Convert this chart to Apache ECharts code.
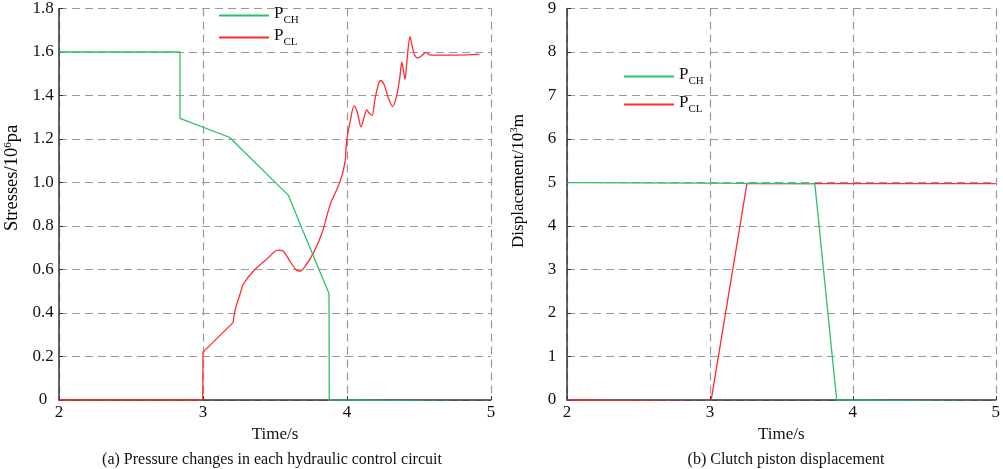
<!DOCTYPE html>
<html><head><meta charset="utf-8">
<script src="https://cdn.jsdelivr.net/npm/echarts@6/dist/echarts.min.js"></script>
<style>html,body{margin:0;padding:0;background:#fff}#c{width:1003px;height:469px}</style>
</head><body><div id="c"></div>
<script>
// ---- data ----
const xTicksMin = 2, xTicksMax = 5;
const seriesNames = ['PCH', 'PCL'];
// (a) pressure, 10^6 Pa
const pressureCH = [[2,1.6],[2.84,1.6],[2.84,1.295],[3.183,1.208],[3.592,0.942],[3.69,0.784],[3.875,0.49],[3.877,0],[4.5,-0.004],[5,-0.01]];
// PCL: straight part (step + ramp) and the curved part after the kink at 3.21 s
const pressureCLRise = [[2,0],[2.998,0],[3.0,0.22],[3.21,0.357]];
const pressureCLCurve = [[3.21,0.357],[3.217,0.395],[3.234,0.44],[3.257,0.486],[3.28,0.532],[3.349,0.592],[3.441,0.646],[3.52,0.689],[3.558,0.684],[3.604,0.638],[3.651,0.595],[3.674,0.592],[3.71,0.615],[3.77,0.68],[3.83,0.775],[3.882,0.896],[3.951,1.003],[3.986,1.094],[3.998,1.193],[4.021,1.276],[4.049,1.352],[4.072,1.322],[4.097,1.256],[4.118,1.299],[4.137,1.334],[4.155,1.318],[4.174,1.309],[4.194,1.382],[4.218,1.451],[4.234,1.469],[4.257,1.451],[4.287,1.39],[4.317,1.349],[4.345,1.398],[4.368,1.489],[4.38,1.553],[4.391,1.519],[4.403,1.474],[4.415,1.549],[4.426,1.625],[4.438,1.671],[4.449,1.64],[4.465,1.595],[4.488,1.572],[4.519,1.583],[4.549,1.598],[4.572,1.587],[4.611,1.586],[4.765,1.586],[4.919,1.589]];
// (b) displacement, 10^3 m
const dispCH = [[2,4.997],[3.734,4.975],[3.887,0],[5,-0.04]];
const dispCL = [[2,0],[3.007,-0.04],[3.259,4.975],[5,4.975]];
const pressureTicks = {min:0, max:1.8, interval:0.2};
const dispTicks = {min:0, max:9, interval:1};
const captions = ['(a) Pressure changes in each hydraulic control circuit', '(b) Clutch piston displacement'];
const xName = 'Time/s';

// ---- styling ----
const FONT = '"Liberation Serif","Times New Roman",serif';
const GREEN = '#2dbf6e', RED = '#ff2e2e';
const grids = [
  {left:59, right:512, top:5, bottom:69},
  {left:567, right:4, top:5, bottom:69}
];
function xAxis(gi){
  return {gridIndex:gi, type:'value', min:xTicksMin, max:xTicksMax, interval:1,
    name:xName, nameLocation:'middle', nameGap:21,
    nameTextStyle:{fontFamily:FONT, fontSize:17, color:'#111'},
    axisLine:{show:true, onZero:false, lineStyle:{color:'#333', width:1.5}},
    axisTick:{show:true, inside:true, length:4, lineStyle:{color:'#333'}},
    axisLabel:{fontFamily:FONT, fontSize:17, color:'#111', margin:4},
    splitLine:{show:true, lineStyle:{type:[8,5], color:'#9a9a9a', width:1.2}}
  };
}
function yAxis(gi, t, fmt, margin){
  return {gridIndex:gi, type:'value', min:t.min, max:t.max, interval:t.interval,
    axisLine:{show:true, lineStyle:{color:'#333', width:1.5}},
    axisTick:{show:true, inside:true, length:4, lineStyle:{color:'#333'}},
    axisLabel:{fontFamily:FONT, fontSize:17, color:'#111', margin:margin, align:'center', formatter:fmt},
    splitLine:{show:true, lineStyle:{type:[8,5], color:'#9a9a9a', width:1.2}}
  };
}
function line(name, data, gi, color, z, smooth){
  return {name, type:'line', xAxisIndex:gi, yAxisIndex:gi, data, symbol:'none', showSymbol:false,
    smooth: smooth || false,
    lineStyle:{color, width:1.3}, itemStyle:{color}, z, animation:false, clip:true};
}
const richLegend = {
  p:{fontFamily:FONT, fontSize:17, color:'#111', verticalAlign:'bottom', padding:[0,0,4,0]},
  s:{fontFamily:FONT, fontSize:11, color:'#111', verticalAlign:'bottom'}
};
function legend(name, left, cy){
  return {data:[name], left, top:cy-11, orient:'vertical', padding:0, itemWidth:50, itemHeight:2, itemGap:0,
    icon:'rect', selectedMode:false,
    formatter: n => '{p|P}{s|' + n.slice(1) + '}',
    textStyle:{rich:richLegend, padding:[0,0,0,0]}};
}
function richName(size){
  return {
    a:{fontFamily:FONT, fontSize:size, color:'#111', verticalAlign:'bottom'},
    b:{fontFamily:FONT, fontSize:11, color:'#111', verticalAlign:'bottom', padding:[0,0,8,0]}
  };
}
const option = {
  animation:false,
  backgroundColor:'#fff',
  grid: grids,
  xAxis:[xAxis(0), xAxis(1)],
  yAxis:[
    yAxis(0, pressureTicks, v => v === 0 ? '0' : v.toFixed(1), 16),
    yAxis(1, dispTicks, v => String(v), 15)
  ],
  legend:[legend('PCH',219,16), legend('PCL',219,38), legend('PCH',624,77), legend('PCL',624,105)],
  series:[
    line('PCL', pressureCLRise, 0, RED, 3),
    line('PCL', pressureCLCurve, 0, RED, 3, 0.3),
    line('PCH', pressureCH, 0, GREEN, 4),
    line('PCL', dispCL, 1, RED, 3),
    line('PCH', dispCH, 1, GREEN, 4)
  ],
  graphic:[
    {type:'text', x:12, y:178, rotation:Math.PI/2, style:{text:'{a|Stresses/10}{b|6}{a|pa}', rich:richName(18.5), align:'center', verticalAlign:'middle'}},
    {type:'text', x:518, y:181, rotation:Math.PI/2, style:{text:'{a|Displacement/10}{b|3}{a|m}', rich:richName(17), align:'center', verticalAlign:'middle'}},
    {type:'text', x:272, y:460, style:{text:captions[0], font:'16px ' + FONT, fill:'#111', align:'center', verticalAlign:'middle'}},
    {type:'text', x:786, y:460, style:{text:captions[1], font:'16px ' + FONT, fill:'#111', align:'center', verticalAlign:'middle'}}
  ]
};
const chart = echarts.init(document.getElementById('c'), null, {renderer:'canvas'});
chart.setOption(option);
</script>
</body></html>
